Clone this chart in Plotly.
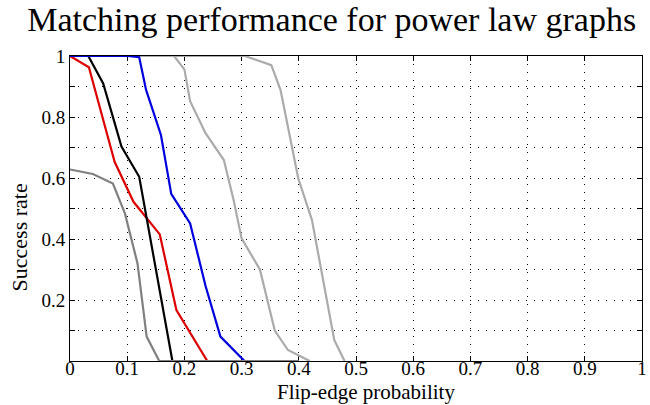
import plotly.graph_objects as go

# Data
x_red = [0, 0.033, 0.078, 0.111, 0.157, 0.186, 0.24]
y_red = [1, 0.963, 0.653, 0.522, 0.415, 0.167, 0]

x_black = [0, 0.032, 0.058, 0.09, 0.121, 0.179]
y_black = [1, 1, 0.91, 0.703, 0.604, 0]

x_blue = [0, 0.101, 0.121, 0.133, 0.159, 0.177, 0.21, 0.237, 0.263, 0.305]
y_blue = [1, 1, 0.996, 0.889, 0.741, 0.548, 0.451, 0.246, 0.08, 0]

x_dgray = [0, 0.04, 0.075, 0.096, 0.118, 0.134, 0.156, 0.4]
y_dgray = [0.628, 0.613, 0.582, 0.484, 0.32, 0.08, 0, 0]

x_lgray1 = [0, 0.182, 0.2, 0.21, 0.237, 0.269, 0.286, 0.3, 0.332, 0.358, 0.381, 0.419]
y_lgray1 = [1, 1, 0.956, 0.852, 0.747, 0.659, 0.528, 0.402, 0.3, 0.1, 0.036, 0]

x_lgray2 = [0, 0.306, 0.352, 0.368, 0.399, 0.423, 0.462, 0.48]
y_lgray2 = [1, 1, 0.97, 0.889, 0.599, 0.462, 0.069, 0]

x_ticks = [0, 0.1, 0.2, 0.3, 0.4, 0.5, 0.6, 0.7, 0.8, 0.9, 1]
x_ticklabels = ["0", "0.1", "0.2", "0.3", "0.4", "0.5", "0.6", "0.7", "0.8", "0.9", "1"]
y_ticks = [0.1, 0.2, 0.3, 0.4, 0.5, 0.6, 0.7, 0.8, 0.9, 1]
y_ticklabels = ["", "0.2", "", "0.4", "", "0.6", "", "0.8", "", "1"]

FONT = "Liberation Serif"

fig = go.Figure()
series = [
    (x_lgray2, y_lgray2, "#ababab"),
    (x_lgray1, y_lgray1, "#ababab"),
    (x_red, y_red, "#dd0000"),
    (x_black, y_black, "#000000"),
    (x_blue, y_blue, "#0000dd"),
    (x_dgray, y_dgray, "#808080"),
]
for xs, ys, c in series:
    fig.add_trace(go.Scatter(x=xs, y=ys, mode="lines",
                             line=dict(color=c, width=2.2), showlegend=False,
                             hoverinfo="skip"))

grid = dict(showgrid=True, gridcolor="black", gridwidth=1, griddash="1px,7px")

fig.update_xaxes(range=[0, 1], tickvals=x_ticks, ticktext=x_ticklabels,
                 ticks="inside", ticklen=5, tickcolor="black",
                 showline=True, linecolor="black", linewidth=1, mirror="ticks",
                 zeroline=False, layer="below traces", ticklabelstandoff=-10,
                 ticklabeloverflow="allow",
                 tickfont=dict(family=FONT, size=19, color="black"), **grid)
fig.update_yaxes(range=[0, 1], tickvals=y_ticks, ticktext=y_ticklabels,
                 ticks="inside", ticklen=5, tickcolor="black",
                 showline=True, linecolor="black", linewidth=1, mirror="ticks",
                 zeroline=False, layer="below traces",
                 tickfont=dict(family=FONT, size=19, color="black"), **grid)

fig.update_layout(
    width=650, height=405,
    margin=dict(l=70, r=3, t=56, b=44),
    paper_bgcolor="white", plot_bgcolor="white",
    title=dict(text="Matching performance for power law graphs",
               font=dict(family=FONT, size=34, color="black"),
               x=(334 - 70) / 577, xref="paper", xanchor="center",
               y=1 - 19 / 405, yref="container", yanchor="middle"),
    annotations=[
        dict(text="Success rate", xref="paper", yref="paper",
             x=-50 / 577, y=(361 - 237) / 305, xanchor="center", yanchor="middle",
             textangle=-90, showarrow=False,
             font=dict(family=FONT, size=22, color="black")),
        dict(text="Flip-edge probability", xref="paper", yref="paper",
             x=(369 - 70) / 577, y=-(392 - 361) / 305, xanchor="center", yanchor="middle",
             showarrow=False, font=dict(family=FONT, size=21, color="black")),
    ],
)

fig.write_html("out.html")
